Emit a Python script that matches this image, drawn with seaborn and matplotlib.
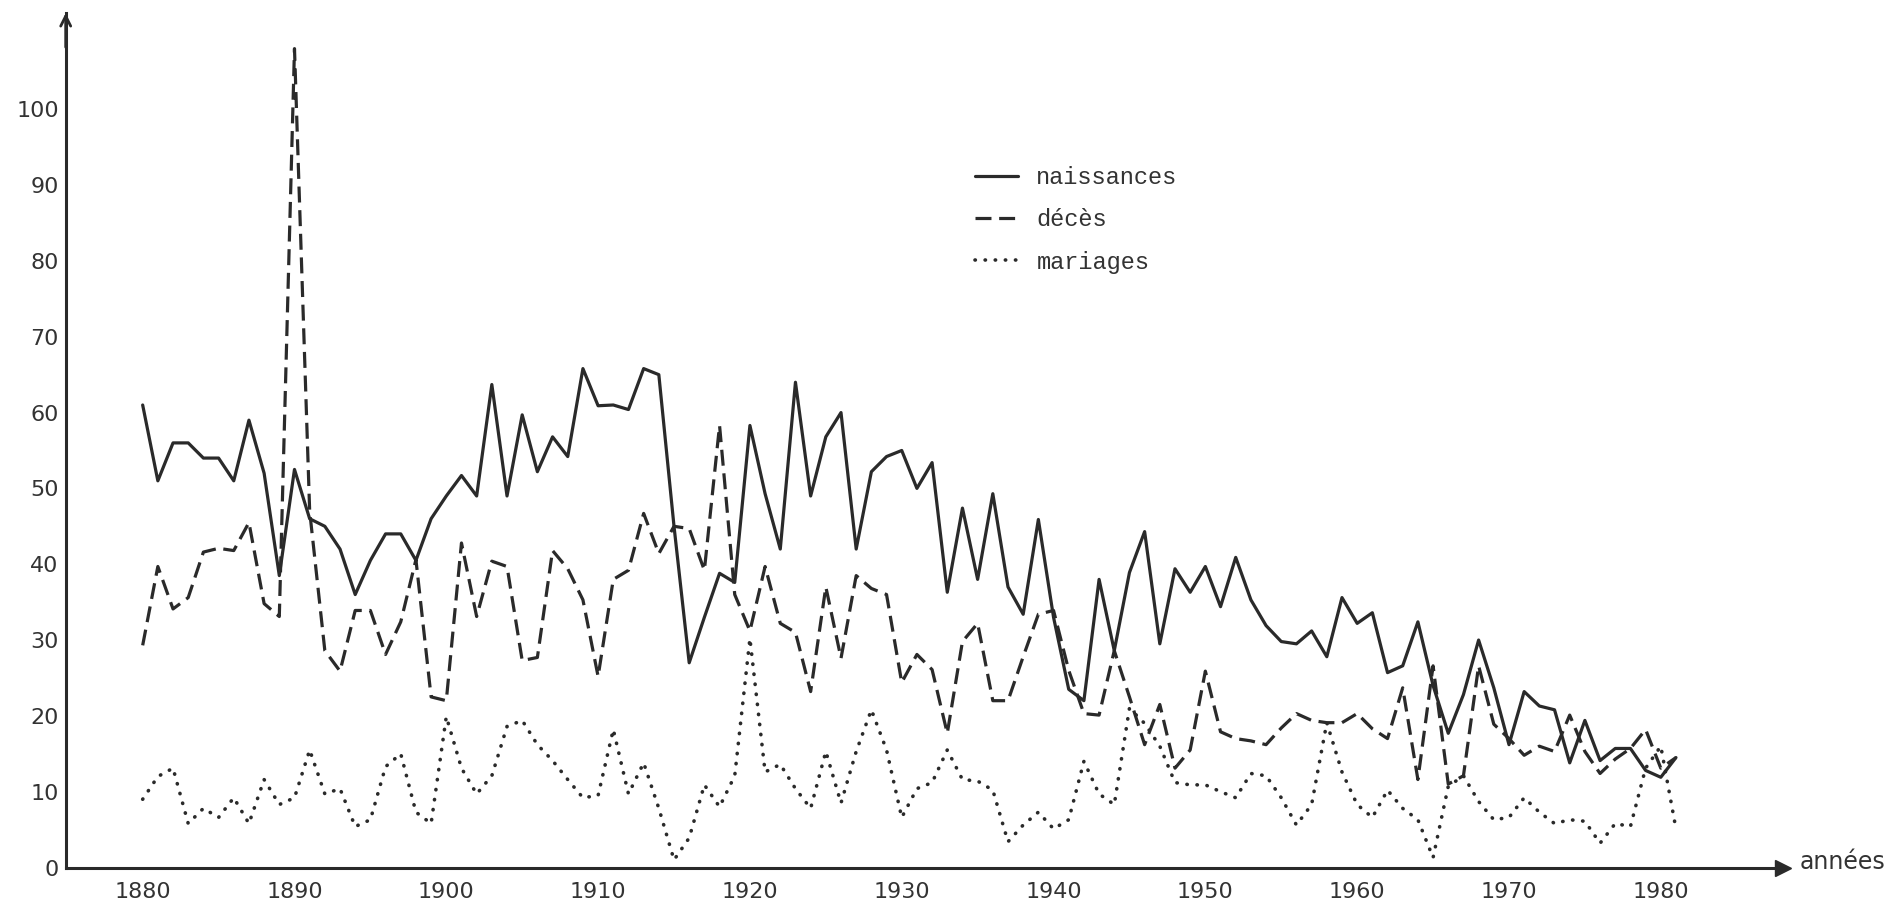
import matplotlib.pyplot as plt
import seaborn as sns
import numpy as np

# données
years = list(range(1880, 1982))
naissances = [61, 51, 56, 56, 54, 54, 51, 59, 52, 38.5,
              52.5, 46, 45, 42, 36, 40.5, 44, 44, 40.5, 46,
              49, 51.7, 49, 63.7, 49, 59.7, 52.2, 56.8, 54.2, 65.8,
              60.9, 61, 60.4, 65.8, 65, 45, 27, 33, 38.8, 37.6,
              58.3, 49.3, 42, 64, 49, 56.8, 60, 42, 52.2, 54.2,
              55, 50, 53.4, 36.3, 47.4, 38, 49.3, 37, 33.4, 45.9,
              33, 23.5, 22, 38, 28.6, 38.9, 44.3, 29.5, 39.4, 36.3,
              39.7, 34.4, 40.9, 35.3, 31.9, 29.8, 29.5, 31.2, 27.8, 35.6,
              32.2, 33.6, 25.7, 26.6, 32.4, 24, 17.7, 22.8, 30, 23.7,
              16.2, 23.2, 21.3, 20.8, 13.8, 19.4, 14.1, 15.7, 15.7, 12.8,
              11.9, 14.5]
deces = [29.3, 39.7, 34.1, 35.6, 41.6, 42.1, 41.8, 45.5, 34.8, 33.1,
         108, 47, 28.6, 25.9, 33.9, 33.9, 28.1, 32.4, 40.6, 22.5,
         22, 42.8, 33.1, 40.4, 39.7, 27.3, 27.7, 41.8, 39.4, 35.3,
         25.2, 38, 39.2, 46.7, 41.4, 45, 44.7, 39.2, 58.3, 36,
         31.2, 39.7, 32.2, 31, 23.2, 37, 27.6, 38.5, 36.8, 36,
         24.4, 28.1, 26.1, 17.7, 29.8, 32.2, 22, 22, 27.8, 33.4,
         33.9, 26, 20.3, 20.1, 28.6, 22.5, 16.2, 21.5, 13.1, 15.5,
         25.9, 17.9, 17, 16.7, 16.2, 18.4, 20.3, 19.4, 19.1, 19.1,
         20.3, 18.3, 17, 23.7, 11.6, 26.6, 11, 12.1, 26.6, 18.9,
         17, 14.8, 16, 15.3, 20.1, 15.3, 12.4, 14.3, 15.7, 18.2,
         13.1, 14.5]
mariages = [9, 12, 13.1, 5.8, 7.8, 6.6, 9.2, 5.8, 11.6, 8.3,
            9.2, 15.5, 9.7, 10.4, 5.4, 6.3, 13.3, 15, 7.3, 5.8,
            19.9, 13.1, 9.7, 12.1, 18.6, 19.4, 16.2, 14.1, 11.6, 9.2,
            9.5, 18.2, 9.7, 13.8, 7.8, 1, 3.9, 10.9, 8, 12.1,
            30.2, 12.6, 13.6, 10.4, 7.8, 15.3, 8.5, 15.3, 20.8, 15.5,
            6.6, 10.4, 11.2, 15.5, 11.6, 11.4, 10.2, 3.4, 5.6, 7.3,
            5.1, 6.3, 14, 9.7, 8.3, 21, 19, 16, 11.2, 10.9,
            10.9, 10, 9.2, 12.4, 12.1, 9.2, 5.6, 8.3, 19.1, 12.6,
            8.3, 6.6, 10.2, 7.8, 6.3, 1.3, 10.7, 12.1, 8.7, 6.3,
            6.6, 9.2, 7.3, 5.8, 6.3, 6.1, 3.2, 5.8, 5.4, 13.1,
            16, 5.1]
xticks = list(range(1880, 1990, 10))
yticks = list(range(0, 110, 10))

sns.set_theme(style="white")
plt.rcParams['font.family'] = ['DejaVu Sans']

ink = '#2a2a2a'
W, H = 1902, 907
fig = plt.figure(figsize=(W / 100, H / 100), dpi=100)
fig.patch.set_facecolor('white')

# axes placées au pixel près
x0, y0, x1, y1 = 65.7, 867.5, 1783, 13
ax = fig.add_axes([x0 / W, 1 - y0 / H, (x1 - x0) / W, (y0 - y1) / H])
ax.set_facecolor('white')

sns.lineplot(x=years, y=naissances, ax=ax, color=ink, lw=2.3,
             linestyle='-', label='naissances')
sns.lineplot(x=years, y=deces, ax=ax, color=ink, lw=2.3,
             linestyle=(0, (5, 2.4)), label='décès')
sns.lineplot(x=years, y=mariages, ax=ax, color=ink, lw=2.6,
             linestyle=(0, (0.1, 2.7)), dash_capstyle='round', label='mariages')

ax.set_xlim(1874.93, 1988.05)
ax.set_ylim(0, 112.7)

# axes avec flèches
for s in ['top', 'right']:
    ax.spines[s].set_visible(False)
for s in ['left', 'bottom']:
    ax.spines[s].set_color(ink)
    ax.spines[s].set_linewidth(2.2)
ax.plot(1, 0, '>', color=ink, markersize=11, transform=ax.get_yaxis_transform(), clip_on=False)
ax.annotate('', xy=(0, 1.0), xytext=(0, 0.96), xycoords='axes fraction',
            arrowprops=dict(arrowstyle='->', lw=2, color=ink, mutation_scale=18,
                            shrinkA=0, shrinkB=0))

ax.set_xticks(xticks)
ax.set_yticks(yticks)
ax.tick_params(axis='both', direction='inout', length=8, width=2, color=ink,
               labelsize=16, labelcolor='#333333')
ax.tick_params(axis='x', pad=6.5)
ax.tick_params(axis='y', pad=1)
ax.set_xlabel('')
ax.set_ylabel('')

fig.text(1800 / W, 1 - 862 / H, 'années', fontsize=17, color='#333333',
         ha='left', va='center')

ax.legend(loc='upper left', bbox_to_anchor=(975 / W, 1 - 166 / H),
          bbox_transform=fig.transFigure, frameon=False, borderpad=0,
          borderaxespad=0, handlelength=1.8, handletextpad=0.8,
          labelspacing=0.82, prop={'family': 'Liberation Mono', 'size': 17},
          labelcolor='#333333')

fig.savefig('out.png', dpi=100, facecolor='white')
